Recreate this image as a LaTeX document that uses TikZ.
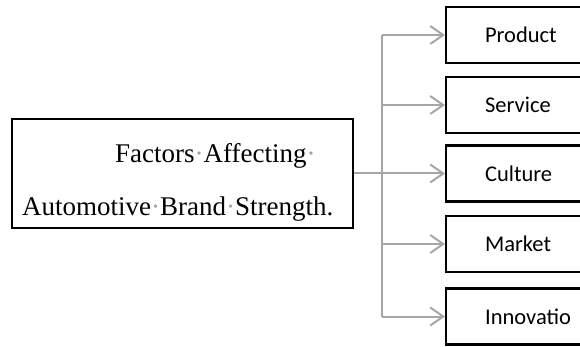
\documentclass[tikz,border=0pt]{standalone}
\usepackage{fontspec}
\setmainfont{Liberation Serif}
\newfontfamily\boxfont{Carlito}
\usepackage{xcolor}
\definecolor{linkgray}{HTML}{A6A6A6}
\definecolor{markgray}{HTML}{A0A0A0}
\usetikzlibrary{arrows.meta}
\newcommand{\pmark}{{\color{markgray}\textperiodcentered}}

\begin{document}
\begin{tikzpicture}[x=1pt,y=-1pt,
    link/.style={draw=linkgray,line width=2pt,-{Straight Barb[length=13pt,width=18pt]}}]
  \useasboundingbox (0,0) rectangle (580,347);
  \clip (0,0) rectangle (580,347);

  % Main box
  \node[draw,line width=1.8pt,minimum width=341pt,minimum height=109pt,inner sep=0pt] (factors) at (182.5,173.5) {};
  \node[anchor=base west,inner sep=0pt,font=\fontsize{27}{30}\selectfont] (factorsA) at (115,163) {Factors\pmark Affecting\pmark};
  \node[anchor=base west,inner sep=0pt,font=\fontsize{27}{30}\selectfont] (factorsB) at (22,215) {Automotive\pmark Brand\pmark Strength.};

  % Factor boxes
  \foreach \name/\label/\y in {product/Product/35, service/Service/105, culture/Culture/173.5, market/Market/244, innovatio/Innovatio/316.5} {
    \node[draw,line width=2.2pt,anchor=west,minimum height=56pt,text width=90pt,inner xsep=39pt,align=left,font=\boxfont\fontsize{22.5}{24}\selectfont] (\name) at (445,\y) {\label};
  }

  % Links
  \coordinate (trunk) at (382,0);
  \draw[link] (factors.east) -- (culture.west);
  \draw[draw=linkgray,line width=2pt] (trunk |- product.west) -- (trunk |- innovatio.west);
  \foreach \name in {product,service,market,innovatio}
    \draw[link] (trunk |- \name.west) -- (\name.west);
\end{tikzpicture}
\end{document}
